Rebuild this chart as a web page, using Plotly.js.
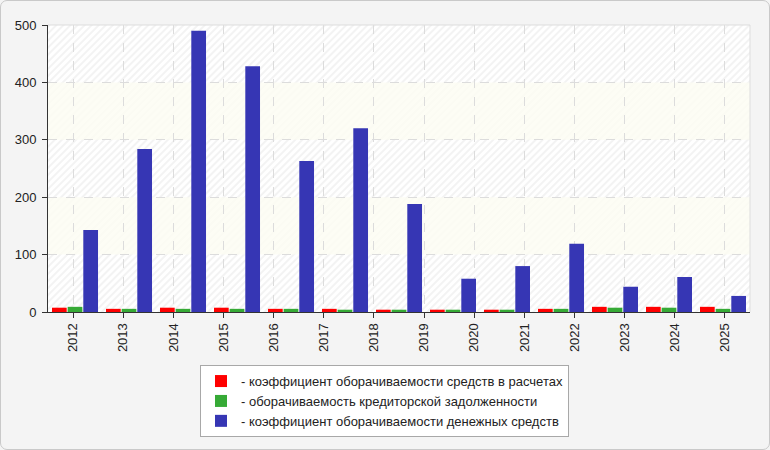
<!DOCTYPE html>
<html>
<head>
<meta charset="utf-8">
<script src="https://cdn.plot.ly/plotly-3.0.1.min.js"></script>
<style>
  html, body { margin: 0; padding: 0; background: #f4f4f4; }
  #wrap { position: relative; width: 770px; height: 450px; }
  #plot { width: 770px; height: 450px; }
  #frame { position: absolute; left: 0; top: 0; right: 0; bottom: 0;
           border: 1px solid #c9c9c9; border-radius: 7px; pointer-events: none; }
</style>
</head>
<body>
<div id="wrap"><div id="plot"></div><div id="frame"></div></div>
<script>
"use strict";

// Axis labels (14 years) — the bar groups (13) don't line up with them in the source chart.
const yearLabels = ["2012", "2013", "2014", "2015", "2016", "2017", "2018",
                    "2019", "2020", "2021", "2022", "2023", "2024", "2025"];

const seriesNames = [
    "- коэффициент оборачиваемости средств в расчетах",
    "- оборачиваемость кредиторской задолженности",
    "- коэффициент оборачиваемости денежных средств",
];

const receivablesTurnover = [7.5, 5.5, 7.5, 7.5, 5.5, 5.5, 4, 4, 4, 5.5, 9, 9, 9];
const payablesTurnover    = [9, 5.5, 5.5, 5.5, 5.5, 4, 4, 4, 4, 5.5, 7.5, 7.5, 5.5];
const cashTurnover        = [143, 284, 490, 428, 263, 320, 188, 58, 80, 119, 44, 61, 28];

const seriesColors = ["#ff0000", "#36aa36", "#3636b4"];

// ── Bars ──
const seriesValues = [receivablesTurnover, payablesTurnover, cashTurnover];
const traces = seriesValues.map((vals, s) => ({
    type: "bar",
    x: vals.map((_, i) => i),
    y: vals,
    name: seriesNames[s],
    marker: { color: seriesColors[s] },
    xaxis: "x", yaxis: "y",
    hoverinfo: "y",
}));

// The year axis needs a trace of its own to get drawn; this one is empty.
traces.push({
    type: "scatter", mode: "none",
    x: yearLabels.map((_, i) => i),
    y: yearLabels.map(() => null),
    xaxis: "x2", yaxis: "y",
    showlegend: false, hoverinfo: "skip",
});

// Faint diagonal hatch behind the plot, as an SVG pattern image.
const W = 702, H = 287;
const hatchSvg =
    `<svg xmlns="http://www.w3.org/2000/svg" width="${W}" height="${H}">` +
    `<defs><pattern id="p" width="5" height="5" patternUnits="userSpaceOnUse" patternTransform="rotate(-45)">` +
    `<rect width="5" height="5" fill="#ffffff"/><rect width="5" height="2" fill="#f3f3f3"/></pattern></defs>` +
    `<rect width="${W}" height="${H}" fill="url(#p)"/></svg>`;

// alternating light bands on the y grid
const bandShapes = [[100, 200], [300, 400]].map(([a, b]) => ({
    type: "rect", xref: "paper", yref: "y", x0: 0, x1: 1, y0: a, y1: b,
    fillcolor: "rgba(252,252,242,0.8)", line: { width: 0 }, layer: "below",
}));

const layout = {
    width: 770, height: 450,
    margin: { l: 48, r: 20, t: 25, b: 138 },
    paper_bgcolor: "#f4f4f4",
    plot_bgcolor: "#ffffff",
    font: { family: "Liberation Sans, Arial, sans-serif", size: 13, color: "#222" },
    barmode: "group",
    bargap: 0.13,
    bargroupgap: 0.06,
    showlegend: true,
    legend: {
        x: 0.2165, xanchor: "left", y: -0.185, yanchor: "top",
        bgcolor: "#ffffff", bordercolor: "#a8a8a8", borderwidth: 1,
        font: { size: 13, color: "#222" }, tracegroupgap: 0, itemwidth: 30,
    },
    xaxis: {
        range: [-0.5, cashTurnover.length - 0.5],
        showticklabels: false, ticks: "", showgrid: false, zeroline: false,
        showline: true, linecolor: "#333", linewidth: 1, fixedrange: true,
    },
    xaxis2: {
        overlaying: "x", anchor: "y", side: "bottom",
        range: [-0.5, yearLabels.length - 0.5],
        tickmode: "array",
        tickvals: yearLabels.map((_, i) => i),
        ticktext: yearLabels,
        tickangle: -90,
        ticks: "outside", ticklen: 5, tickcolor: "#333",
        showgrid: true, gridcolor: "#dcdcdc", griddash: "dash", gridwidth: 1,
        zeroline: false, showline: false, fixedrange: true,
        tickfont: { size: 13, color: "#222" },
    },
    yaxis: {
        range: [0, 500], dtick: 100,
        ticks: "outside", ticklen: 5, tickcolor: "#333",
        ticklabelstandoff: 3,
        showline: true, linecolor: "#333", linewidth: 1,
        showgrid: true, gridcolor: "#dcdcdc", griddash: "dash", gridwidth: 1,
        zeroline: false, fixedrange: true,
        tickfont: { size: 13, color: "#222" },
    },
    images: [{
        source: "data:image/svg+xml;charset=utf-8," + encodeURIComponent(hatchSvg),
        xref: "paper", yref: "paper", x: 0, y: 1, sizex: 1, sizey: 1,
        sizing: "stretch", layer: "below",
    }],
    shapes: bandShapes.concat([
        { type: "line", xref: "paper", yref: "paper", x0: 0, x1: 1, y0: 1, y1: 1,
          line: { color: "#dddddd", width: 1 } },
        { type: "line", xref: "paper", yref: "paper", x0: 1, x1: 1, y0: 0, y1: 1,
          line: { color: "#dddddd", width: 1 } },
    ]),
};

Plotly.newPlot("plot", traces, layout, { displayModeBar: false, staticPlot: true });
</script>
</body>
</html>
